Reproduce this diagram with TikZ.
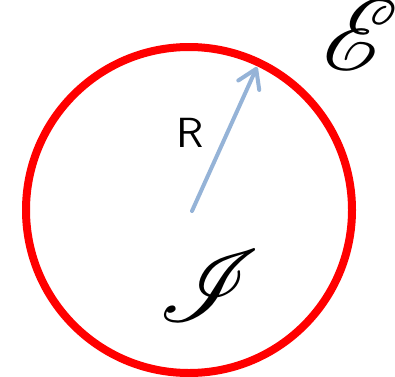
\documentclass[tikz,border=0pt]{standalone}
\usepackage{mathrsfs}
\usetikzlibrary{arrows.meta}
\definecolor{radblue}{HTML}{95B3D7}
\begin{document}
\begin{tikzpicture}[x=0.02cm, y=0.02cm]
    \useasboundingbox (0,0) rectangle (395,376);
    \clip (0,0) rectangle (395,376);

    % Boundary
    \draw[red, line width=0.16cm] (189,166) circle (163);

    % Radius
    \coordinate (o) at (192,165);
    \coordinate (tip) at (257,309);
    \draw[radblue, line width=0.08cm, line cap=round,
          -{Straight Barb[length=0.36cm, width=0.46cm, round]}] (o) -- (tip);

    \node[inner sep=0pt] (rlabel) at (190,243.5) {\sffamily\scalebox{2.4}{R}};
    \node[inner sep=0pt] (ext) at (361,341) {\scalebox{5.8}{$\mathscr{E}$}};
    \node[inner sep=0pt] (int) at (209,90) {\scalebox{5.8}{$\mathscr{I}$}};
\end{tikzpicture}
\end{document}
